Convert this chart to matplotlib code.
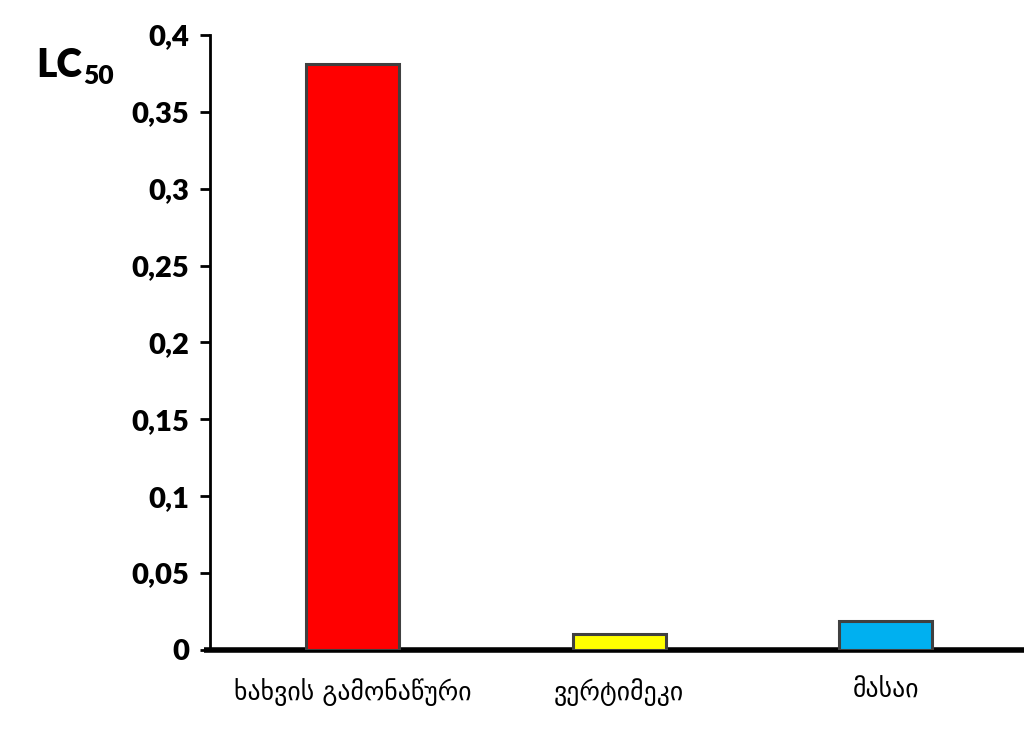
import numpy as np
import matplotlib.pyplot as plt
from matplotlib.ticker import FuncFormatter

plt.rcParams['font.family'] = ['Lato', 'DejaVu Sans']

# LC50 values per sample
categories = ['ხახვის გამონაწური', 'ვერტიმეკი', 'მასაი']
lc50 = [0.381, 0.0105, 0.019]
colors = ['#FF0000', '#FFFF00', '#00B0F0']
yticks = [0, 0.05, 0.1, 0.15, 0.2, 0.25, 0.3, 0.35, 0.4]

fig = plt.figure(figsize=(10.36, 7.29), dpi=100)
ax = fig.add_axes([0.2027, 0.1084, 0.786, 0.8436])

x = np.arange(len(categories))
ax.bar(x, lc50, width=0.35, color=colors, edgecolor='#404040', linewidth=2.2, zorder=3)

ax.set_xlim(-0.536, 2.52)
ax.set_ylim(0, 0.4)
ax.set_yticks(yticks)
ax.yaxis.set_major_formatter(FuncFormatter(lambda v, p: ('%g' % v).replace('.', ',')))
ax.tick_params(axis='y', direction='out', length=7, width=2, pad=8, labelsize=21)
for lab in ax.get_yticklabels():
    lab.set_fontweight('heavy')

ax.set_xticks(x)
ax.set_xticklabels(categories, fontsize=18.5, family=['DejaVu Sans'])
ax.tick_params(axis='x', length=0, pad=20)

for s in ['top', 'right']:
    ax.spines[s].set_visible(False)
ax.spines['left'].set_linewidth(2)
ax.spines['bottom'].set_linewidth(4)
ax.spines['bottom'].set_capstyle('butt')
ax.spines['bottom'].set_bounds(-0.56, 2.52)

# axis title: LC with subscript 50
fig.text(0.035, 0.895, 'LC', fontsize=28, fontweight='heavy')
fig.text(0.0805, 0.885, '50', fontsize=19, fontweight='heavy')

fig.savefig('out.png', dpi=100)
